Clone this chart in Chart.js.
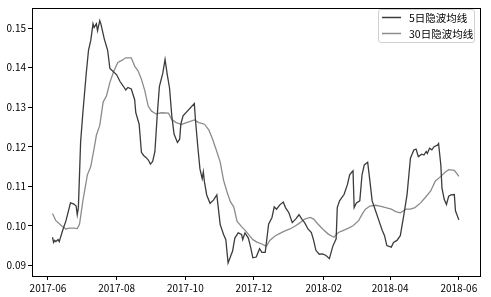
<!DOCTYPE html>
<html><head><meta charset="utf-8">
<script src="https://cdn.jsdelivr.net/npm/chart.js@4/dist/chart.umd.min.js"></script>
<style>html,body{margin:0;padding:0;background:#fff}#wrap{width:491px;height:297px;position:relative}</style>
</head><body><div id="wrap"><canvas id="c" width="491" height="297"></canvas></div>
<script>
const seriesNames = ['5日隐波均线', '30日隐波均线'];
const tickLabelsX = ['2017-06','2017-08','2017-10','2017-12','2018-02','2018-04','2018-06'];
const tickValuesY = [0.09,0.10,0.11,0.12,0.13,0.14,0.15];

const datesShort = ['2017-06-05','2017-06-06','2017-06-07','2017-06-08','2017-06-10','2017-06-11','2017-06-14','2017-06-17','2017-06-21','2017-06-24','2017-06-26','2017-06-27','2017-06-28','2017-06-30',
'2017-07-02','2017-07-05','2017-07-07','2017-07-09','2017-07-11','2017-07-12','2017-07-14','2017-07-15','2017-07-17','2017-07-18','2017-07-21','2017-07-24','2017-07-26','2017-07-28',
'2017-08-01','2017-08-04','2017-08-07','2017-08-09','2017-08-11','2017-08-14','2017-08-17','2017-08-18','2017-08-21','2017-08-23','2017-08-25','2017-08-27','2017-08-29','2017-08-31',
'2017-09-02','2017-09-04','2017-09-06','2017-09-08','2017-09-11','2017-09-13','2017-09-15','2017-09-17','2017-09-19','2017-09-21','2017-09-24','2017-09-26','2017-09-27','2017-09-29',
'2017-10-09','2017-10-10','2017-10-12','2017-10-14','2017-10-16','2017-10-17','2017-10-18','2017-10-20','2017-10-23','2017-10-26','2017-10-29','2017-10-30',
'2017-11-01','2017-11-04','2017-11-06','2017-11-08','2017-11-12','2017-11-14','2017-11-17','2017-11-20','2017-11-21','2017-11-23','2017-11-26','2017-11-28','2017-11-30',
'2017-12-03','2017-12-06','2017-12-08','2017-12-11','2017-12-14','2017-12-17','2017-12-19','2017-12-21','2017-12-24','2017-12-27','2017-12-29',
'2018-01-01','2018-01-04','2018-01-07','2018-01-10','2018-01-13','2018-01-15','2018-01-18','2018-01-21','2018-01-23','2018-01-25','2018-01-28','2018-01-31',
'2018-02-03','2018-02-06','2018-02-09','2018-02-12','2018-02-13','2018-02-15','2018-02-19','2018-02-22','2018-02-24','2018-02-26','2018-02-27','2018-02-28',
'2018-03-02','2018-03-05','2018-03-07','2018-03-09','2018-03-12','2018-03-14','2018-03-16','2018-03-19','2018-03-22','2018-03-25','2018-03-27','2018-03-29',
'2018-04-02','2018-04-04','2018-04-07','2018-04-10','2018-04-13','2018-04-16','2018-04-19','2018-04-22','2018-04-24','2018-04-26','2018-04-29',
'2018-05-01','2018-05-03','2018-05-04','2018-05-06','2018-05-08','2018-05-10','2018-05-13','2018-05-14','2018-05-16','2018-05-17','2018-05-19','2018-05-21','2018-05-23','2018-05-25','2018-05-28','2018-05-29',
'2018-06-01'];
const ivShort = [0.0971,0.0958,0.0963,0.0960,0.0965,0.0960,0.0988,0.1013,0.1058,0.1055,0.1050,0.1028,0.1046,0.1213,
0.1286,0.1386,0.1444,0.1469,0.1511,0.1502,0.1511,0.1494,0.1519,0.1511,0.1473,0.1444,0.1398,0.1393,
0.1382,0.1365,0.1353,0.1344,0.1350,0.1346,0.1319,0.1286,0.1257,0.1186,0.1178,0.1173,0.1167,0.1156,
0.1163,0.1188,0.1278,0.1353,0.1386,0.1421,0.1382,0.1348,0.1278,0.1232,0.1211,0.1219,0.1257,0.1278,
0.1309,0.1269,0.1203,0.1144,0.1119,0.1136,0.1111,0.1078,0.1057,0.1065,0.1078,0.1053,
0.1003,0.0978,0.0965,0.0906,0.0936,0.0969,0.0982,0.0978,0.0965,0.0982,0.0969,0.0946,0.0919,
0.0921,0.0942,0.0933,0.0933,0.1004,0.1021,0.1048,0.1042,0.1053,0.1060,0.1046,
0.1033,0.1008,0.1017,0.1028,0.1015,0.1008,0.0992,0.0983,0.0963,0.0938,0.0928,0.0929,
0.0925,0.0917,0.0948,0.0967,0.1046,0.1063,0.1079,0.1104,0.1129,0.1136,0.1139,0.1046,
0.1058,0.1063,0.1129,0.1154,0.1161,0.1113,0.1063,0.1038,0.1013,0.0988,0.0975,0.0950,
0.0946,0.0958,0.0963,0.0975,0.1025,0.1079,0.1171,0.1192,0.1194,0.1175,0.1181,
0.1179,0.1188,0.1183,0.1196,0.1192,0.1200,0.1204,0.1208,0.1154,0.1096,0.1067,0.1054,0.1075,0.1078,0.1079,0.1038,
0.1015];

const datesLong = ['2017-06-05','2017-06-08','2017-06-13','2017-06-17','2017-06-20','2017-06-24','2017-06-27','2017-06-29',
'2017-07-02','2017-07-06','2017-07-09','2017-07-12','2017-07-14','2017-07-17','2017-07-20','2017-07-23','2017-07-26','2017-07-29',
'2017-08-02','2017-08-06','2017-08-09','2017-08-14','2017-08-17','2017-08-20','2017-08-23','2017-08-26','2017-08-29',
'2017-09-01','2017-09-05','2017-09-10','2017-09-16','2017-09-19','2017-09-23','2017-09-28','2017-09-29',
'2017-10-09','2017-10-13','2017-10-18','2017-10-22','2017-10-25','2017-10-28',
'2017-11-01','2017-11-04','2017-11-07','2017-11-10','2017-11-13','2017-11-16','2017-11-20','2017-11-24','2017-11-27','2017-11-30',
'2017-12-04','2017-12-08','2017-12-12','2017-12-15','2017-12-20','2017-12-24','2017-12-29',
'2018-01-02','2018-01-07','2018-01-11','2018-01-15','2018-01-20','2018-01-23','2018-01-27','2018-01-31',
'2018-02-05','2018-02-10','2018-02-14','2018-02-18','2018-02-23','2018-02-27',
'2018-03-04','2018-03-07','2018-03-10','2018-03-14','2018-03-19','2018-03-23','2018-03-28',
'2018-04-02','2018-04-06','2018-04-10','2018-04-15','2018-04-19','2018-04-23','2018-04-28',
'2018-05-02','2018-05-07','2018-05-11','2018-05-16','2018-05-20','2018-05-23','2018-05-28','2018-05-30',
'2018-06-01'];
const ivLong = [0.1031,0.1013,0.1000,0.0992,0.0994,0.0994,0.0993,0.1004,
0.1063,0.1129,0.1150,0.1196,0.1229,0.1254,0.1313,0.1329,0.1363,0.1388,
0.1413,0.1419,0.1425,0.1425,0.1404,0.1392,0.1371,0.1342,0.1303,
0.1290,0.1283,0.1286,0.1285,0.1269,0.1261,0.1256,0.1258,
0.1268,0.1261,0.1257,0.1242,0.1221,0.1196,
0.1161,0.1115,0.1086,0.1061,0.1048,0.1011,0.0998,0.0986,0.0975,0.0965,
0.0958,0.0954,0.0948,0.0963,0.0975,0.0981,0.0988,
0.0992,0.1000,0.1008,0.1017,0.1021,0.1017,0.1004,0.0992,
0.0979,0.0971,0.0983,0.0988,0.0994,0.1000,
0.1013,0.1029,0.1042,0.1050,0.1052,0.1050,0.1046,
0.1042,0.1036,0.1033,0.1042,0.1042,0.1046,0.1058,
0.1071,0.1088,0.1113,0.1125,0.1136,0.1142,0.1140,0.1133,
0.1125];

const BASE = Date.UTC(2017,5,1);
const toDay = s => { const [y,m,d] = s.split('-').map(Number); return (Date.UTC(y,m-1,d) - BASE) / 86400000; };
const pts = (ds, vs) => ds.map((d,i) => ({x: toDay(d), y: vs[i]}));
const tickDays = tickLabelsX.map(s => toDay(s + '-01'));

const FONT = '"Noto Sans CJK SC", "DejaVu Sans", sans-serif';

const frameLegend = {
  id: 'frameLegend',
  afterDatasetsDraw(chart) {
    const {ctx, chartArea: a} = chart;
    ctx.save();
    ctx.strokeStyle = '#000'; ctx.lineWidth = 1;
    ctx.strokeRect(Math.round(a.left) + 0.5, Math.round(a.top) + 0.5, Math.round(a.right - a.left), Math.round(a.bottom - a.top));
    // legend box
    const bx = 378.5, by = 9.5, bw = 96, bh = 33, r = 2.5;
    ctx.beginPath();
    ctx.moveTo(bx + r, by); ctx.lineTo(bx + bw - r, by); ctx.quadraticCurveTo(bx + bw, by, bx + bw, by + r);
    ctx.lineTo(bx + bw, by + bh - r); ctx.quadraticCurveTo(bx + bw, by + bh, bx + bw - r, by + bh);
    ctx.lineTo(bx + r, by + bh); ctx.quadraticCurveTo(bx, by + bh, bx, by + bh - r);
    ctx.lineTo(bx, by + r); ctx.quadraticCurveTo(bx, by, bx + r, by);
    ctx.closePath();
    ctx.fillStyle = 'rgba(255,255,255,0.85)'; ctx.fill();
    ctx.strokeStyle = '#d0d0d0'; ctx.stroke();
    const ys = [17.5, 33.5];
    chart.data.datasets.forEach((ds, i) => {
      ctx.strokeStyle = ds.borderColor; ctx.lineWidth = 1.5;
      ctx.beginPath(); ctx.moveTo(382, ys[i]); ctx.lineTo(401, ys[i]); ctx.stroke();
      ctx.fillStyle = '#000'; ctx.font = '10.5px ' + FONT; ctx.textBaseline = 'middle'; ctx.textAlign = 'left';
      ctx.fillText(ds.label, 409, ys[i] + 0.5);
    });
    ctx.restore();
  }
};

new Chart(document.getElementById('c'), {
  type: 'line',
  data: {
    datasets: [
      {label: seriesNames[0], data: pts(datesShort, ivShort), borderColor: '#3c3c3c', borderWidth: 1.3, pointRadius: 0, tension: 0, fill: false},
      {label: seriesNames[1], data: pts(datesLong, ivLong), borderColor: '#8c8c8c', borderWidth: 1.3, pointRadius: 0, tension: 0, fill: false}
    ]
  },
  options: {
    responsive: false, animation: false,
    layout: {padding: {top: 4, right: 11, bottom: 0, left: 0}},
    plugins: {legend: {display: false}, tooltip: {enabled: false}},
    scales: {
      x: {
        type: 'linear', min: -14.2, max: 383.8,
        afterBuildTicks: s => { s.ticks = tickDays.map(v => ({value: v})); },
        afterFit: s => { s.height = 21; },
        ticks: {autoSkip: false, maxRotation: 0, padding: 2, color: '#000', font: {family: FONT, size: 10},
          callback: (v) => { const i = tickDays.indexOf(v); return i >= 0 ? tickLabelsX[i] : ''; }},
        grid: {drawOnChartArea: false, drawTicks: true, tickLength: 4, color: '#000'},
        border: {display: true, color: '#000'}
      },
      y: {
        min: 0.0873, max: 0.1551,
        afterBuildTicks: s => { s.ticks = tickValuesY.map(v => ({value: v})); },
        afterFit: s => { s.width = 32; },
        ticks: {autoSkip: false, padding: 2, color: '#000', font: {family: FONT, size: 10},
          callback: v => Number(v).toFixed(2)},
        grid: {drawOnChartArea: false, drawTicks: true, tickLength: 4, color: '#000'},
        border: {display: true, color: '#000'}
      }
    }
  },
  plugins: [frameLegend]
});
</script></body></html>
